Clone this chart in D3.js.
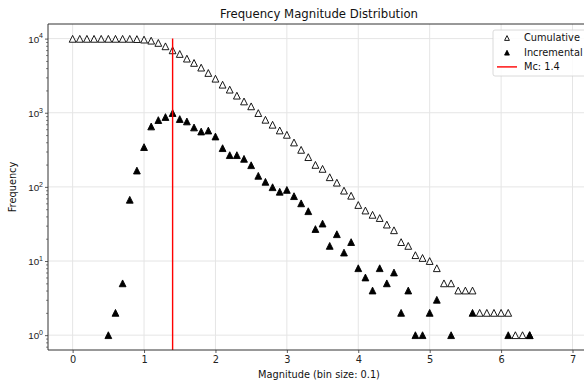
<!DOCTYPE html>
<html>
<head>
<meta charset="utf-8">
<script src="https://cdn.jsdelivr.net/npm/d3@7"></script>
<style>
  body { margin: 0; background: #fff; }
  svg { display: block; font-family: "DejaVu Sans", sans-serif; }
</style>
</head>
<body>
<svg id="fmd" width="584" height="381"></svg>
<script>
// cumulative counts, one per 0.1 bin
var cumMags = [0.0, 0.1, 0.2, 0.3, 0.4, 0.5, 0.6, 0.7, 0.8, 0.9,
  1.0, 1.1, 1.2, 1.3, 1.4, 1.5, 1.6, 1.7, 1.8, 1.9,
  2.0, 2.1, 2.2, 2.3, 2.4, 2.5, 2.6, 2.7, 2.8, 2.9,
  3.0, 3.1, 3.2, 3.3, 3.4, 3.5, 3.6, 3.7, 3.8, 3.9,
  4.0, 4.1, 4.2, 4.3, 4.4, 4.5, 4.6, 4.7, 4.8, 4.9,
  5.0, 5.1, 5.2, 5.3, 5.4, 5.5, 5.6, 5.7, 5.8, 5.9,
  6.0, 6.1, 6.2, 6.3, 6.4];
var cumCounts = [9930, 9930, 9930, 9930, 9930, 9930, 9930, 9925, 9920, 9850,
  9700, 9380, 8750, 7870, 6950, 6210, 5370, 4700, 4060, 3440,
  2880, 2390, 2050, 1700, 1420, 1220, 990, 804, 689, 577,
  504, 397, 316, 252, 198, 175, 135, 114, 89, 76,
  57, 48, 42, 38, 31, 26, 18, 16, 12, 11,
  10, 8, 5, 5, 4, 4, 4, 2, 2, 2,
  2, 2, 1, 1, 1];

// incremental counts (only non-empty bins)
var incMags = [0.5, 0.6, 0.7, 0.8, 0.9, 1.0, 1.1, 1.2, 1.3, 1.4,
  1.5, 1.6, 1.7, 1.8, 1.9, 2.0, 2.1, 2.2, 2.3, 2.4,
  2.5, 2.6, 2.7, 2.8, 2.9, 3.0, 3.1, 3.2, 3.3, 3.4,
  3.5, 3.6, 3.7, 3.8, 3.9, 4.0, 4.1, 4.2, 4.3, 4.4,
  4.5, 4.6, 4.7, 4.8, 4.9, 5.0, 5.1, 5.3, 5.6, 6.1, 6.4];
var incCounts = [1, 2, 5, 67, 166, 344, 653, 796, 875, 990,
  822, 763, 633, 558, 575, 478, 333, 268, 268, 239,
  196, 141, 117, 99, 86, 91, 75, 60, 47, 27,
  32, 16, 23, 13, 18, 8, 6, 4, 8, 5,
  7, 2, 4, 1, 1, 2, 3, 1, 2, 1, 1];

var mc = 1.4;
var mcTop = 10000;
var xTicks = [0, 1, 2, 3, 4, 5, 6, 7];
var yTicks = [1, 10, 100, 1000, 10000];
var legendLabels = ['Cumulative', 'Incremental', 'Mc: 1.4'];

InitChart();

function InitChart() {
  var svg = d3.select('#fmd'),
    MARGINS = { top: 24, right: -6, bottom: 31, left: 48 },
    WIDTH = 584,
    HEIGHT = 381,
    x0 = MARGINS.left,
    x1 = WIDTH - MARGINS.right,
    y0 = HEIGHT - MARGINS.bottom,
    y1 = MARGINS.top,
    xRange = d3.scaleLinear().domain([-0.345, 7.245]).range([x0, x1]),
    yRange = d3.scaleLog().domain([Math.pow(10, -0.2), Math.pow(10, 4.197)]).range([y0, y1]);

  var cum = cumMags.map(function(m, i) { return { x: m, y: cumCounts[i] }; });
  var inc = incMags.map(function(m, i) { return { x: m, y: incCounts[i] }; });

  svg.append('defs').append('clipPath').attr('id', 'plot-clip')
    .append('rect').attr('x', x0).attr('y', y1).attr('width', x1 - x0).attr('height', y0 - y1);

  // grid
  var grid = svg.append('g').attr('class', 'grid');
  grid.selectAll('line.gx')
    .data(xTicks)
    .enter()
    .append('line')
    .attr('x1', function(d) { return xRange(d); })
    .attr('x2', function(d) { return xRange(d); })
    .attr('y1', y1)
    .attr('y2', y0)
    .attr('stroke', '#e5e5e5')
    .attr('stroke-width', 1);
  grid.selectAll('line.gy')
    .data(yTicks)
    .enter()
    .append('line')
    .attr('x1', x0)
    .attr('x2', x1)
    .attr('y1', function(d) { return yRange(d); })
    .attr('y2', function(d) { return yRange(d); })
    .attr('stroke', '#e5e5e5')
    .attr('stroke-width', 1);

  // triangle marker, matplotlib '^'
  function tri(s) {
    var h = s / 2;
    return 'M0,' + (-h) + 'L' + h + ',' + h + 'L' + (-h) + ',' + h + 'Z';
  }

  var plot = svg.append('g').attr('clip-path', 'url(#plot-clip)');

  plot.selectAll('path.cum')
    .data(cum)
    .enter()
    .append('path')
    .attr('class', 'cum')
    .attr('d', tri(6.8))
    .attr('transform', function(d) { return 'translate(' + xRange(d.x) + ',' + yRange(d.y) + ')'; })
    .attr('fill', '#fff')
    .attr('stroke', '#000')
    .attr('stroke-width', 0.9);

  plot.selectAll('path.inc')
    .data(inc)
    .enter()
    .append('path')
    .attr('class', 'inc')
    .attr('d', tri(6.8))
    .attr('transform', function(d) { return 'translate(' + xRange(d.x) + ',' + yRange(d.y) + ')'; })
    .attr('fill', '#000')
    .attr('stroke', '#000')
    .attr('stroke-width', 0.9);

  plot.append('line')
    .attr('x1', xRange(mc))
    .attr('x2', xRange(mc))
    .attr('y1', yRange(mcTop))
    .attr('y2', y0)
    .attr('stroke', '#ff0000')
    .attr('stroke-width', 1.4);

  // axes
  var xAxis = d3.axisBottom(xRange).tickValues(xTicks).tickSize(3).tickPadding(3)
    .tickFormat(d3.format('d'));
  var gx = svg.append('g')
    .attr('transform', 'translate(0,' + y0 + ')')
    .call(xAxis);
  gx.select('.domain').remove();
  gx.selectAll('line').attr('stroke', '#333').attr('stroke-width', 0.8);
  gx.selectAll('text').attr('font-size', '9.8px').attr('fill', '#222')
    .attr('font-family', '"DejaVu Sans", sans-serif');

  var minor = [];
  for (var e = -1; e <= 4; e++) {
    for (var k = 2; k <= 9; k++) {
      var v = k * Math.pow(10, e);
      if (v > yRange.domain()[0] && v < yRange.domain()[1]) minor.push(v);
    }
  }
  var gyMinor = svg.append('g')
    .attr('transform', 'translate(' + x0 + ',0)')
    .call(d3.axisLeft(yRange).tickValues(minor).tickSize(2).tickFormat(''));
  gyMinor.select('.domain').remove();
  gyMinor.selectAll('line').attr('stroke', '#333').attr('stroke-width', 0.6);

  var gy = svg.append('g')
    .attr('transform', 'translate(' + x0 + ',0)')
    .call(d3.axisLeft(yRange).tickValues(yTicks).tickSize(3).tickPadding(3).tickFormat(''));
  gy.select('.domain').remove();
  gy.selectAll('line').attr('stroke', '#333').attr('stroke-width', 0.8);
  gy.selectAll('.tick').each(function(d) {
    var t = d3.select(this).append('text')
      .attr('x', -5)
      .attr('y', 3.8)
      .attr('text-anchor', 'end')
      .attr('font-size', '9.8px')
      .attr('fill', '#222');
    t.append('tspan').text('10');
    t.append('tspan').attr('dy', -4.5).attr('font-size', '7px').text(Math.round(Math.log10(d)));
  });

  // spines
  svg.append('line').attr('x1', x0).attr('x2', x0).attr('y1', y1).attr('y2', y0)
    .attr('stroke', '#333').attr('stroke-width', 1);
  svg.append('line').attr('x1', x0).attr('x2', x1).attr('y1', y0).attr('y2', y0)
    .attr('stroke', '#333').attr('stroke-width', 1);
  svg.append('line').attr('x1', x0).attr('x2', x1).attr('y1', y1).attr('y2', y1)
    .attr('stroke', '#333').attr('stroke-width', 1);

  // titles
  svg.append('text')
    .attr('x', (x0 + x1) / 2)
    .attr('y', 18)
    .attr('text-anchor', 'middle')
    .attr('font-size', '11.7px')
    .attr('fill', '#111')
    .text('Frequency Magnitude Distribution');
  svg.append('text')
    .attr('x', (x0 + x1) / 2)
    .attr('y', 378)
    .attr('text-anchor', 'middle')
    .attr('font-size', '9.8px')
    .attr('fill', '#111')
    .text('Magnitude (bin size: 0.1)');
  svg.append('text')
    .attr('transform', 'translate(16,' + ((y0 + y1) / 2) + ') rotate(-90)')
    .attr('text-anchor', 'middle')
    .attr('font-size', '9.8px')
    .attr('fill', '#111')
    .text('Frequency');

  // legend
  var lg = svg.append('g').attr('transform', 'translate(493,30)');
  lg.append('rect')
    .attr('x', 0).attr('y', 0).attr('width', 100).attr('height', 46)
    .attr('rx', 2)
    .attr('fill', '#fff').attr('fill-opacity', 0.85)
    .attr('stroke', '#d0d0d0').attr('stroke-width', 0.8);
  var rows = lg.selectAll('g.row')
    .data(legendLabels)
    .enter()
    .append('g')
    .attr('transform', function(d, i) { return 'translate(0,' + (7.5 + i * 14.7) + ')'; });
  rows.append('text')
    .attr('x', 31)
    .attr('y', 3.5)
    .attr('font-size', '9.8px')
    .attr('fill', '#111')
    .text(function(d) { return d; });
  rows.each(function(d, i) {
    var r = d3.select(this);
    if (i < 2) {
      r.append('path')
        .attr('d', tri(4.8))
        .attr('transform', 'translate(14,0.5)')
        .attr('fill', i === 0 ? '#fff' : '#000')
        .attr('stroke', '#000')
        .attr('stroke-width', 0.9);
    } else {
      r.append('line')
        .attr('x1', 4).attr('x2', 24).attr('y1', 0).attr('y2', 0)
        .attr('stroke', '#ff0000').attr('stroke-width', 1.4);
    }
  });
}
</script>
</body>
</html>
